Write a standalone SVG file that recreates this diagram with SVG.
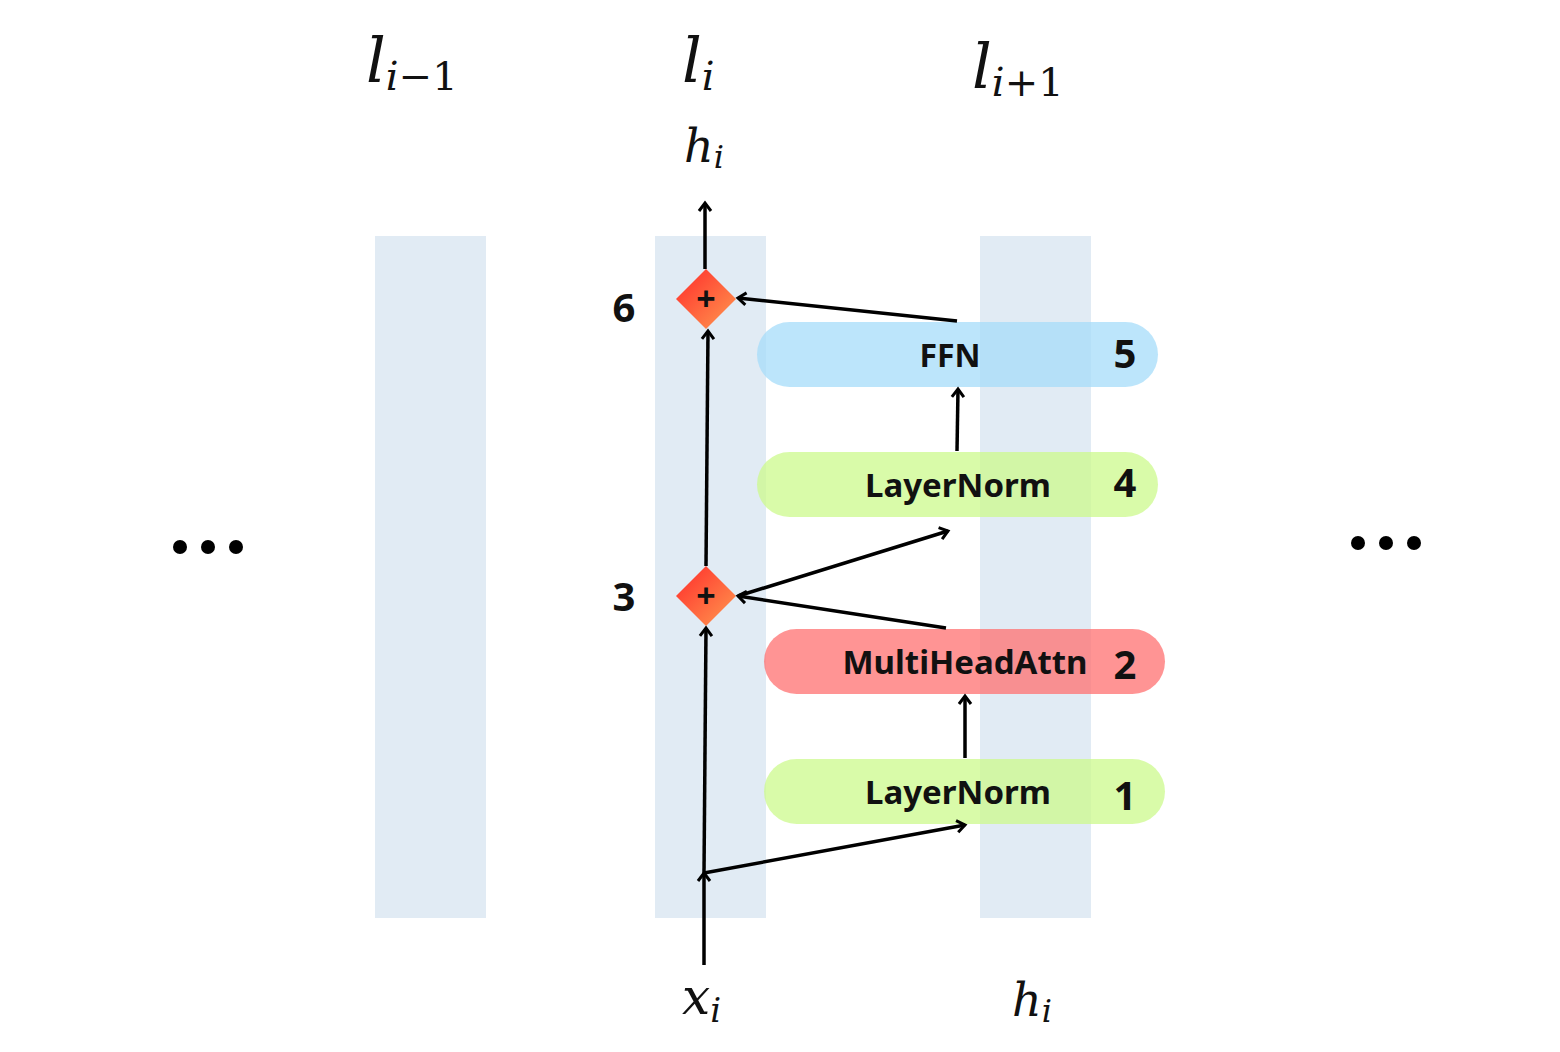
<svg xmlns="http://www.w3.org/2000/svg" width="1560" height="1052" viewBox="0 0 1560 1052">
<defs>
<style>
.col{fill:#e1ebf4}
.lbl{font-family:"Noto Sans","Open Sans",sans-serif;font-weight:bold;fill:#111}
.num{font-family:"Noto Sans","Open Sans",sans-serif;font-weight:bold;fill:#111;font-size:40px}
.math{font-family:"DejaVu Serif",serif;font-style:italic;fill:#111}
.ln{stroke:#000;stroke-width:3.5;fill:none;marker-end:url(#ah)}
.dots{fill:#000}
.plus{font-family:"Noto Sans",sans-serif;font-weight:bold;font-size:34px;fill:#111}
</style>
<marker id="ah" markerWidth="16" markerHeight="16" refX="11" refY="8" orient="auto" markerUnits="userSpaceOnUse">
<path d="M3,2 L11,8 L3,14" fill="none" stroke="#000" stroke-width="3"/>
</marker>
<linearGradient id="dg" x1="0" y1="0" x2="1" y2="1">
<stop offset="0" stop-color="#ff2a2a"/><stop offset="1" stop-color="#ff9a50"/>
</linearGradient>
</defs>
<rect width="1560" height="1052" fill="#fff"/>
<g id="columns">
<rect class="col" x="375" y="236" width="111" height="682"/>
<rect class="col" x="655" y="236" width="111" height="682"/>
<rect class="col" x="980" y="236" width="111" height="682"/>
</g>
<g id="titles">
<text class="math" x="366" y="82" font-size="62">l<tspan font-size="40" dy="8">i</tspan><tspan font-style="normal" font-size="40">−1</tspan></text>
<text class="math" x="682" y="82" font-size="62">l<tspan font-size="40" dy="8">i</tspan></text>
<text class="math" x="972" y="88" font-size="62">l<tspan font-size="40" dy="8">i</tspan><tspan font-style="normal" font-size="40">+1</tspan></text>
<text class="math" x="684" y="162" font-size="46">h<tspan font-size="32" dy="6">i</tspan></text>
<text class="math" x="682" y="1014" font-size="50">x<tspan font-size="34" dy="8">i</tspan></text>
<text class="math" x="1012" y="1016" font-size="46">h<tspan font-size="32" dy="6">i</tspan></text>
</g>
<g id="dots-left"><circle class="dots" cx="180" cy="547" r="7"/><circle class="dots" cx="208" cy="547" r="7"/><circle class="dots" cx="236" cy="547" r="7"/></g>
<g id="dots-right"><circle class="dots" cx="1358" cy="543" r="7"/><circle class="dots" cx="1386" cy="543" r="7"/><circle class="dots" cx="1414" cy="543" r="7"/></g>
<g id="ffn"><rect x="757" y="322" width="401" height="65" rx="32.5" fill="#a6dcfa" opacity="0.75"/>
<text class="lbl" x="950" y="367" font-size="32" text-anchor="middle">FFN</text><text class="num" x="1125" y="368" text-anchor="middle">5</text></g>
<g id="layernorm4"><rect x="757" y="452" width="401" height="65" rx="32.5" fill="#ccfa8c" opacity="0.75"/>
<text class="lbl" x="958" y="497" font-size="33" text-anchor="middle">LayerNorm</text><text class="num" x="1125" y="497" text-anchor="middle">4</text></g>
<g id="mha"><rect x="764" y="629" width="401" height="65" rx="32.5" fill="#ff7070" opacity="0.75"/>
<text class="lbl" x="965" y="674" font-size="33" text-anchor="middle">MultiHeadAttn</text><text class="num" x="1125" y="679" text-anchor="middle">2</text></g>
<g id="layernorm1"><rect x="764" y="759" width="401" height="65" rx="32.5" fill="#ccfa8c" opacity="0.75"/>
<text class="lbl" x="958" y="804" font-size="33" text-anchor="middle">LayerNorm</text><text class="num" x="1125" y="810" text-anchor="middle">1</text></g>
<g id="add3"><path d="M706,566 L736,596 L706,626 L676,596 Z" fill="url(#dg)"/>
<text class="plus" x="706" y="608" text-anchor="middle">+</text>
<text class="num" x="624" y="611" text-anchor="middle">3</text></g>
<g id="add6"><path d="M706,269 L736,299 L706,329 L676,299 Z" fill="url(#dg)"/>
<text class="plus" x="706" y="311" text-anchor="middle">+</text>
<text class="num" x="624" y="322" text-anchor="middle">6</text></g>
<g id="connectors">
<path class="ln" d="M704,965 L704,873"/>
<path class="ln" d="M704,873 L706,628"/>
<path class="ln" d="M704,873 L965,825"/>
<path class="ln" d="M965,758 L965,696"/>
<path class="ln" d="M946,628 L738,596"/>
<path class="ln" d="M738,596 L948,531"/>
<path class="ln" d="M957,451 L958,389"/>
<path class="ln" d="M957,321 L738,298"/>
<path class="ln" d="M706,566 L708,331"/>
<path class="ln" d="M705,269 L705,203"/>
</g>
</svg>
